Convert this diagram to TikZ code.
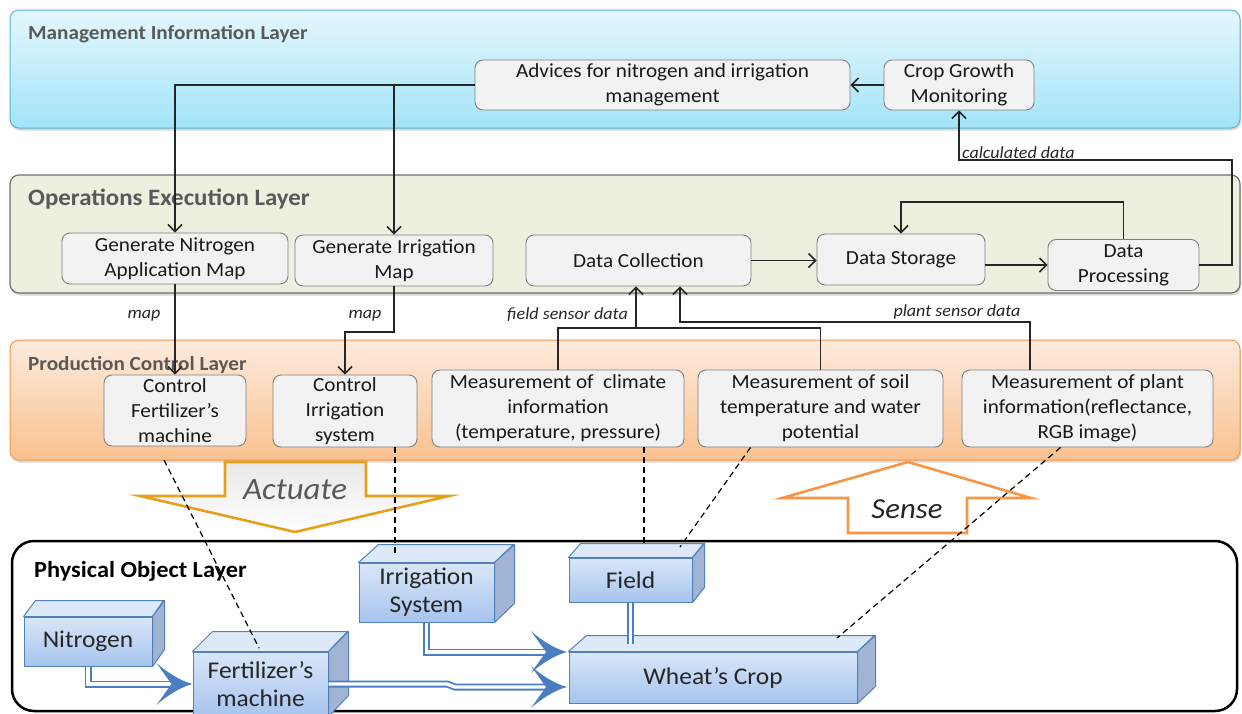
\documentclass[tikz,border=0pt]{standalone}
\usepackage{fontspec}
\setmainfont{Carlito}[FakeStretch=1.06]
\usetikzlibrary{arrows.meta,shadows}

\definecolor{mgmtTop}{HTML}{E4F7FD}
\definecolor{mgmtBot}{HTML}{A3E4F9}
\definecolor{mgmtLine}{HTML}{5AB4CF}
\definecolor{opsFill}{HTML}{EBF1DE}
\definecolor{opsLine}{HTML}{6F6F6F}
\definecolor{prodTop}{HTML}{FDEBDD}
\definecolor{prodBot}{HTML}{FAC18F}
\definecolor{prodLine}{HTML}{F79646}
\definecolor{boxFill}{HTML}{F2F2F2}
\definecolor{boxLine}{HTML}{7F7F7F}
\definecolor{titleGray}{HTML}{595959}
\definecolor{actLine}{HTML}{E3A21A}
\definecolor{senseLine}{HTML}{F79646}
\definecolor{cubeLine}{HTML}{4F81BD}
\definecolor{cubeTop}{HTML}{DDE8F8}
\definecolor{cubeFrontTop}{HTML}{DAE6F8}
\definecolor{cubeFrontBot}{HTML}{A6C4EE}
\definecolor{cubeSide}{HTML}{A2B4D3}
\definecolor{flowBlue}{HTML}{4A7EC0}

% a box drawn as a block: front face node plus top and side faces
% #1 name, #2 cx, #3 cy, #4 width, #5 height, #6 depth x, #7 depth y, #8 text
\newcommand{\physbox}[8]{%
  \node[cubefront, minimum width=#4pt, minimum height=#5pt] (#1) at (#2,#3) {#8};
  \draw[cubetopface] (#1.north west) -- ++(#6,-#7) -- ++(#4,0) -- (#1.north east) -- cycle;
  \draw[cubesideface] (#1.north east) -- ++(#6,-#7) -- ++(0,#5) -- (#1.south east) -- cycle;
}
% blue arrow head with hollow sides for the material flows, tip at #1
\newcommand{\flowhead}[1]{%
  \fill[flowBlue] (#1) .. controls +(-12,-3) and +(10,9) .. ++(-36,-21)
    -- ++(15,21) -- ++(-15,21) .. controls +(10,-9) and +(-12,3) .. (#1) -- cycle;
}

\begin{document}
\begin{tikzpicture}[x=1pt,y=-1pt,
  layertitle/.style={anchor=base west, inner sep=0pt, text=titleGray,
    font=\bfseries\fontsize{20}{24}\selectfont},
  procbox/.style={draw=boxLine, fill=boxFill, rounded corners=8pt, line width=0.9pt,
    align=center, inner sep=0pt, text=black!90, font=\fontsize{20}{25}\selectfont},
  conn/.style={draw=black!85, line width=1.5pt, -{Straight Barb[length=7pt,width=14pt]}},
  link/.style={draw=black!85, line width=1.5pt},
  itlabel/.style={inner sep=0pt, text=black!85, font=\itshape\fontsize{17}{20}\selectfont},
  dashlink/.style={draw=black, line width=1.2pt, dash pattern=on 6pt off 4pt},
  cubefront/.style={draw=cubeLine, line width=1pt, top color=cubeFrontTop,
    bottom color=cubeFrontBot, inner sep=0pt, align=center, text=black!85,
    font=\fontsize{24}{28}\selectfont},
  cubetopface/.style={draw=cubeLine, line width=1pt, fill=cubeTop, line join=round},
  cubesideface/.style={draw=cubeLine, line width=1pt, fill=cubeSide, line join=round},
  flow/.style={draw=flowBlue, line width=1.8pt, double=white, double distance=3.4pt},
  layershadow/.style={drop shadow={opacity=0.3, shadow xshift=1pt, shadow yshift=-2.5pt}}
]
\useasboundingbox (0,0) rectangle (1242,713);

% ---------- layers ----------
\path[draw=mgmtLine, line width=1pt, top color=mgmtTop, bottom color=mgmtBot,
      rounded corners=9pt, layershadow] (10,10) rectangle (1240,128);
\node[layertitle] (tMgmt) at (28,39) {Management Information Layer};

\path[draw=opsLine, line width=1.2pt, fill=opsFill, rounded corners=9pt, layershadow]
      (10,175) rectangle (1240,293);
\node[layertitle, font=\bfseries\fontsize{23.5}{27}\selectfont] (tOps) at (28,205) {Operations Execution Layer};

\path[draw=prodLine, line width=1pt, top color=prodTop, bottom color=prodBot,
      rounded corners=9pt, layershadow] (10,340) rectangle (1240,460);
\node[layertitle] (tProd) at (28,370) {Production Control Layer};

\draw[line width=2.5pt, rounded corners=22pt] (12,541) rectangle (1237,711);
\node[layertitle, text=black, font=\bfseries\fontsize{23}{27}\selectfont] (tPhys) at (34,577) {Physical Object Layer};

% ---------- actuate / sense ----------
\draw[draw=actLine, line width=2.6pt, top color=gray!18, bottom color=white, line join=miter]
  (225,462) -- (366,462) -- (366,496) -- (449,496) -- (295,532) -- (140,496) -- (225,496) -- cycle;
\node[anchor=base, inner sep=0pt, text=titleGray, font=\itshape\fontsize{31}{36}\selectfont]
  (actuate) at (295,499) {Actuate};

\draw[draw=senseLine, line width=2.6pt, fill=white, line join=miter]
  (848,533) -- (967,533) -- (967,498) -- (1031,498) -- (908,462) -- (782,498) -- (848,498) -- cycle;
\node[anchor=base, inner sep=0pt, text=black!85, font=\itshape\fontsize{29}{34}\selectfont]
  (sense) at (907,518) {Sense};

% ---------- management boxes ----------
\node[procbox, minimum width=375pt, minimum height=50pt] (adv) at (662.5,85)
  {Advices for nitrogen and irrigation\\management};
\node[procbox, minimum width=150pt, minimum height=50pt] (crop) at (959,85)
  {Crop Growth\\Monitoring};

% ---------- operations boxes ----------
\node[procbox, minimum width=226pt, minimum height=51pt] (genN) at (175,258.5)
  {Generate Nitrogen\\Application Map};
\node[procbox, minimum width=198pt, minimum height=51pt] (genI) at (394,260.5)
  {Generate Irrigation\\Map};
\node[procbox, minimum width=225pt, minimum height=51pt] (coll) at (638.5,260.5)
  {Data Collection};
\node[procbox, minimum width=168pt, minimum height=51pt] (store) at (901,259.5)
  {Data Storage};
\node[procbox, minimum width=151pt, minimum height=51pt] (proc) at (1123.5,265)
  {Data\\Processing};

% ---------- production control boxes ----------
\node[procbox, minimum width=142pt, minimum height=71pt] (ctrlF) at (175,410.5)
  {Control\\Fertilizer’s\\machine};
\node[procbox, minimum width=144pt, minimum height=72pt] (ctrlI) at (345,411)
  {Control\\Irrigation\\system};
\node[procbox, minimum width=252pt, minimum height=77pt] (clim) at (558,408.5)
  {Measurement of\ \ climate\\information\\(temperature, pressure)};
\node[procbox, minimum width=245pt, minimum height=77pt] (soil) at (820.5,408.5)
  {Measurement of soil\\temperature and water\\potential};
\node[procbox, minimum width=251pt, minimum height=77pt] (plant) at (1087.5,408.5)
  {Measurement of plant\\information(reflectance,\\RGB image)};

% ---------- physical objects ----------
\physbox{nitro}{88}{641.5}{128}{49}{12}{16}{Nitrogen}
\physbox{fert}{260.5}{684}{135}{64}{20}{20}{Fertilizer’s\\machine}
\physbox{irr}{426.5}{592.5}{135}{59}{20}{18}{Irrigation\\System}
\physbox{field}{630.5}{580}{123}{44}{12}{14}{Field}
\physbox{wheat}{713}{677.5}{288}{51}{18}{16}{Wheat’s Crop}

% ---------- material flows ----------
\coordinate (wTipUp) at (567,652);
\coordinate (wTipLow) at (567,687);
\coordinate (fwJog1) at (447,684);
\coordinate (fwJog2) at (455,687);
\draw[flow] (nitro.south) |- ([xshift=-18pt]fert.west);
\draw[flow] (fert.east) -- (fwJog1) -- (fwJog2) -- ([xshift=-18pt]wTipLow);
\draw[flow] (irr.south) |- ([xshift=-18pt]wTipUp);
\draw[flow] (field.south) -- ++(0,41);
\flowhead{fert.west}
\flowhead{wTipLow}
\flowhead{wTipUp}

% ---------- sensing / actuation links ----------
\coordinate (dFa) at (164,460);
\coordinate (dFb) at (259,648);
\draw[dashlink] (dFa) -- (dFb);
\draw[dashlink] ([xshift=50pt]ctrlI.south) -- (395,556);
\draw[dashlink] ([xshift=86pt]clim.south) -- (644,543);
\draw[dashlink] ([xshift=-70pt]soil.south) -- (680,547);
\draw[dashlink] ([xshift=-27pt]plant.south) -- (837,638);

% ---------- information flow ----------
\draw[conn] (crop.west) -- (adv.east);
\draw[conn] (adv.west) -| (genN.north);
\draw[conn] (adv.west -| genI.north) -- (genI.north);

\coordinate (cdBend) at (1232,160);
\draw[conn] (proc.east) -| (cdBend) -| (crop.south);
\node[itlabel, anchor=base west] (cdLabel) at (962,158) {calculated data};

\coordinate (loopBend) at (901,202);
\draw[conn] (proc.north) |- (loopBend) -- (store.north);
\draw[conn] (coll.east) -- (coll.east -| store.west);
\draw[conn] (store.east |- proc.west) -- (proc.west);

\draw[conn] (genN.south) -- (ctrlF.north);
\node[itlabel] (mapN) at (144,316) {map};
\coordinate (mapBend) at (394,332);
\draw[conn] (genI.south) -- (mapBend) -| (ctrlI.north);
\node[itlabel] (mapI) at (365,316) {map};

\coordinate (fieldBus) at (636,328);
\draw[conn] (clim.north) |- (fieldBus) -- (fieldBus |- coll.south);
\draw[link] (soil.north) |- (fieldBus);
\node[itlabel, anchor=base east] (fsLabel) at (628,319) {field sensor data};

\coordinate (plantBus) at (680,322);
\coordinate (plantTap) at (1030,370);
\draw[conn] (plantTap) |- (plantBus) -- (plantBus |- coll.south);
\node[itlabel, anchor=base] (psLabel) at (957,316) {plant sensor data};

\end{tikzpicture}
\end{document}
